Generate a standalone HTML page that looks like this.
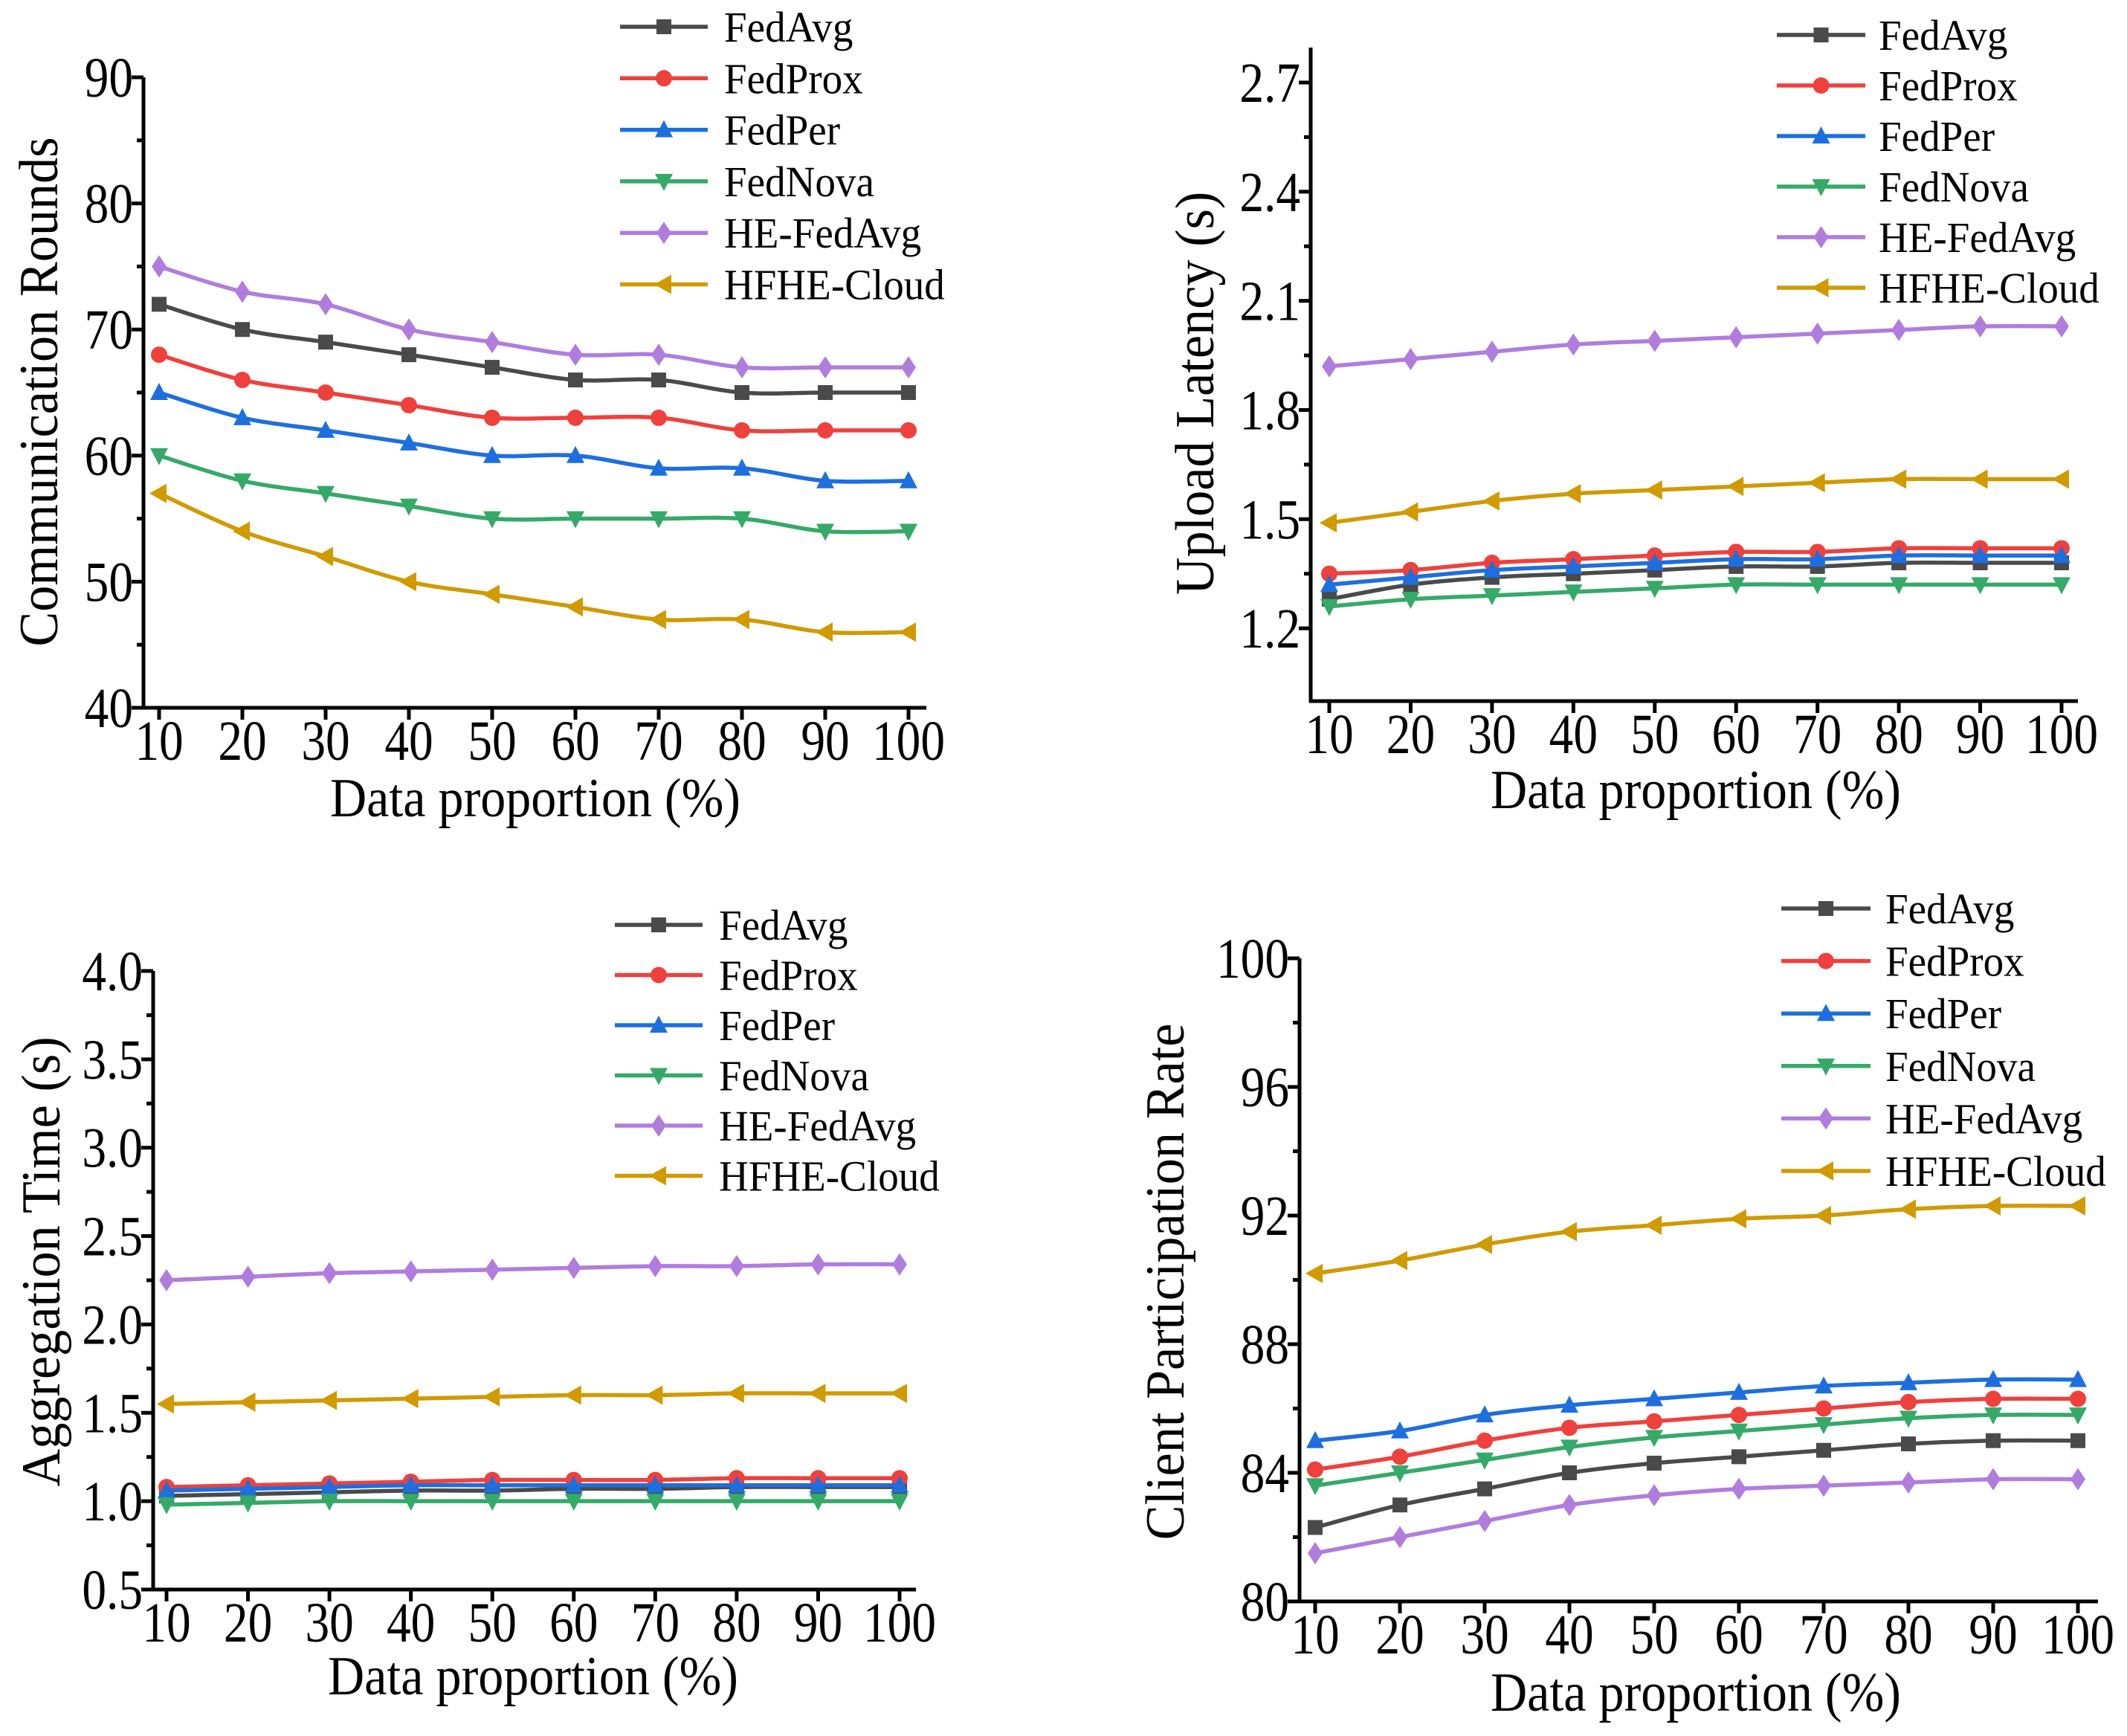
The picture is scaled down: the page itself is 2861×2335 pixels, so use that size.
<!DOCTYPE html>
<html><head><meta charset="utf-8"><style>
html,body{margin:0;padding:0;background:#fff}
svg{display:block}
text{font-family:"Liberation Serif","Times New Roman",serif;fill:#000}
</style></head><body>
<svg id="fig" width="2861" height="2335" viewBox="0 0 2861 2335" xmlns="http://www.w3.org/2000/svg"></svg>
<script>
const xCategories=[10,20,30,40,50,60,70,80,90,100];
const seriesNames=["FedAvg","FedProx","FedPer","FedNova","HE-FedAvg","HFHE-Cloud"];
// Panel 1: communication rounds
const roundsFedAvg=[72,70,69,68,67,66,66,65,65,65];
const roundsFedProx=[68,66,65,64,63,63,63,62,62,62];
const roundsFedPer=[65,63,62,61,60,60,59,59,58,58];
const roundsFedNova=[60,58,57,56,55,55,55,55,54,54];
const roundsHEFedAvg=[75,73,72,70,69,68,68,67,67,67];
const roundsHFHE=[57,54,52,50,49,48,47,47,46,46];
const roundsTicks=[40,50,60,70,80,90];
// Panel 2: upload latency
const latFedAvg=[1.28,1.32,1.34,1.35,1.36,1.37,1.37,1.38,1.38,1.38];
const latFedProx=[1.35,1.36,1.38,1.39,1.40,1.41,1.41,1.42,1.42,1.42];
const latFedPer=[1.32,1.34,1.36,1.37,1.38,1.39,1.39,1.40,1.40,1.40];
const latFedNova=[1.26,1.28,1.29,1.30,1.31,1.32,1.32,1.32,1.32,1.32];
const latHEFedAvg=[1.92,1.94,1.96,1.98,1.99,2.00,2.01,2.02,2.03,2.03];
const latHFHE=[1.49,1.52,1.55,1.57,1.58,1.59,1.60,1.61,1.61,1.61];
const latTicks=["1.2","1.5","1.8","2.1","2.4","2.7"];
// Panel 3: aggregation time
const aggFedAvg=[1.03,1.04,1.05,1.06,1.06,1.07,1.07,1.08,1.08,1.08];
const aggFedProx=[1.08,1.09,1.10,1.11,1.12,1.12,1.12,1.13,1.13,1.13];
const aggFedPer=[1.06,1.07,1.08,1.09,1.09,1.09,1.09,1.09,1.09,1.09];
const aggFedNova=[0.98,0.99,1.00,1.00,1.00,1.00,1.00,1.00,1.00,1.00];
const aggHEFedAvg=[2.25,2.27,2.29,2.30,2.31,2.32,2.33,2.33,2.34,2.34];
const aggHFHE=[1.55,1.56,1.57,1.58,1.59,1.60,1.60,1.61,1.61,1.61];
const aggTicks=["0.5","1.0","1.5","2.0","2.5","3.0","3.5","4.0"];
// Panel 4: client participation rate
const cprFedAvg=[82.3,83.0,83.5,84.0,84.3,84.5,84.7,84.9,85.0,85.0];
const cprFedProx=[84.1,84.5,85.0,85.4,85.6,85.8,86.0,86.2,86.3,86.3];
const cprFedPer=[85.0,85.3,85.8,86.1,86.3,86.5,86.7,86.8,86.9,86.9];
const cprFedNova=[83.6,84.0,84.4,84.8,85.1,85.3,85.5,85.7,85.8,85.8];
const cprHEFedAvg=[81.5,82.0,82.5,83.0,83.3,83.5,83.6,83.7,83.8,83.8];
const cprHFHE=[90.2,90.6,91.1,91.5,91.7,91.9,92.0,92.2,92.3,92.3];
const cprTicks=[80,84,88,92,96,100];

const colors=["#4a4a4a","#f0403c","#1d6fe0","#35aa68","#b07ddf","#d09a00"];
const markers=["square","circle","up","down","diamond","left"];
const NS="http://www.w3.org/2000/svg";
const svg=document.getElementById("fig");
function mk(tag,attrs,parent){const e=document.createElementNS(NS,tag);for(const k in attrs)e.setAttribute(k,attrs[k]);(parent||svg).appendChild(e);return e;}

function marker(g,type,x,y,c){
  const s=10;let e;
  if(type==="square")e=mk("rect",{x:x-s,y:y-s,width:2*s,height:2*s,fill:c},g);
  else if(type==="circle")e=mk("circle",{cx:x,cy:y,r:s+1,fill:c},g);
  else if(type==="up")e=mk("polygon",{points:`${x},${y-s-3} ${x+s+2},${y+s} ${x-s-2},${y+s}`,fill:c},g);
  else if(type==="down")e=mk("polygon",{points:`${x},${y+s+3} ${x+s+2},${y-s} ${x-s-2},${y-s}`,fill:c},g);
  else if(type==="diamond")e=mk("polygon",{points:`${x},${y-s-5} ${x+s},${y} ${x},${y+s+5} ${x-s},${y}`,fill:c},g);
  else e=mk("polygon",{points:`${x-s-3},${y} ${x+s},${y-s-3} ${x+s},${y+s+3}`,fill:c},g);
  
  
}
function smoothPath(pts){
  let d=`M${pts[0][0]},${pts[0][1]}`;
  for(let i=0;i<pts.length-1;i++){
    const p0=pts[i-1]||pts[i],p1=pts[i],p2=pts[i+1],p3=pts[i+2]||p2;
    const t=6;
    d+=` C${p1[0]+(p2[0]-p0[0])/t},${p1[1]+(p2[1]-p0[1])/t} ${p2[0]-(p3[0]-p1[0])/t},${p2[1]-(p3[1]-p1[1])/t} ${p2[0]},${p2[1]}`;
  }
  return d;
}
function ctext(g,x,y,size,anchor,str,sx){
  const t=mk("text",{x:0,y:0,"font-size":size,"text-anchor":anchor,transform:`translate(${x},${y}) scale(${sx},1)`},g);
  t.textContent=str;
  return t;
}

function panel(cfg){
  const g=mk("g",{});
  
  
  const ys=v=>cfg.yBot-(v-cfg.yMin)/(cfg.yMax-cfg.yMin)*(cfg.yBot-cfg.yTopVal);
  const xs=v=>cfg.x10+(v-10)/90*(cfg.x100-cfg.x10);
  const ya=mk("line",{x1:cfg.ax,y1:cfg.axTop,x2:cfg.ax,y2:cfg.yBot+2,stroke:"#000","stroke-width":5},g);
  
  const xa=mk("line",{x1:cfg.ax-2,y1:cfg.yBot,x2:cfg.axRight,y2:cfg.yBot,stroke:"#000","stroke-width":5},g);
  
  cfg.ticks.forEach((t,i)=>{
    const v=parseFloat(t),y=ys(v);
    mk("line",{x1:cfg.ax-16,y1:y,x2:cfg.ax,y2:y,stroke:"#000","stroke-width":5},g);
    const tx=ctext(g,cfg.ax-14,y+26,76,"end",String(t),0.86);
    
    if(i<cfg.ticks.length-1||cfg.extraMinor){
      const mv=v+cfg.step/2;
      if(mv<=cfg.yMaxAxis){const my=ys(mv);mk("line",{x1:cfg.ax-9,y1:my,x2:cfg.ax,y2:my,stroke:"#000","stroke-width":5},g);}
    }
  });
  xCategories.forEach(c=>{
    const x=xs(c);
    mk("line",{x1:x,y1:cfg.yBot,x2:x,y2:cfg.yBot+16,stroke:"#000","stroke-width":5},g);
    const tx=ctext(g,x,cfg.yBot+70,76,"middle",String(c),0.86);
    
  });
  const xt=ctext(g,cfg.xtX,cfg.xtY,74,"middle","Data proportion (%)",0.92);
  
  const yt=mk("text",{x:0,y:0,"font-size":74,"text-anchor":"middle",transform:`translate(${cfg.ytX},${cfg.ytY}) rotate(-90) scale(0.95,1)`},g);
  yt.textContent=cfg.yTitle;
  
  cfg.series.forEach((arr,si)=>{
    const sg=mk("g",{},g);
    
    
    const pts=arr.map((v,i)=>[xs(xCategories[i]),ys(v)]);
    const p=mk("path",{d:smoothPath(pts),fill:"none",stroke:colors[si],"stroke-width":5.5,"stroke-linejoin":"round"},sg);
    
    pts.forEach(q=>marker(sg,markers[si],q[0],q[1],colors[si]));
  });
  const lg=mk("g",{},g);
  
  seriesNames.forEach((n,i)=>{
    const y=cfg.legY+i*cfg.legDy;
    const eg=mk("g",{},lg);
    
    mk("line",{x1:cfg.legX1,y1:y,x2:cfg.legX2,y2:y,stroke:colors[i],"stroke-width":5.5},eg);
    marker(eg,markers[i],(cfg.legX1+cfg.legX2)/2,y,colors[i]);
    ctext(eg,cfg.legT,y+20,58,"start",n,0.95);
  });
}

panel({name:"rounds-chart",ax:193,axTop:104,axRight:1246,yBot:952,yTopVal:104,yMin:40,yMax:90,yMaxAxis:90,step:10,
  ticks:roundsTicks,x10:214,x100:1222,series:[roundsFedAvg,roundsFedProx,roundsFedPer,roundsFedNova,roundsHEFedAvg,roundsHFHE],
  yTitle:"Communication Rounds",ytX:77,ytY:527,xtX:720,xtY:1098,legX1:834,legX2:952,legT:974,legY:36,legDy:69.3});
panel({name:"latency-chart",ax:1763,axTop:64,axRight:2795,yBot:943,yTopVal:111,yMin:1.0,yMax:2.7,yMaxAxis:2.8,step:0.3,extraMinor:true,
  ticks:latTicks,x10:1788,x100:2773,series:[latFedAvg,latFedProx,latFedPer,latFedNova,latHEFedAvg,latHFHE],
  yTitle:"Upload Latency (s)",ytX:1632,ytY:529,xtX:2281,xtY:1087,legX1:2390,legX2:2509,legT:2527,legY:47,legDy:68});
panel({name:"aggregation-chart",ax:206,axTop:1306,axRight:1232,yBot:2138,yTopVal:1306,yMin:0.5,yMax:4.0,yMaxAxis:4.0,step:0.5,
  ticks:aggTicks,x10:224,x100:1210,series:[aggFedAvg,aggFedProx,aggFedPer,aggFedNova,aggHEFedAvg,aggHFHE],
  yTitle:"Aggregation Time (s)",ytX:80,ytY:1697,xtX:717,xtY:2279,legX1:827,legX2:945,legT:967,legY:1244,legDy:67.5});
panel({name:"participation-chart",ax:1748,axTop:1289,axRight:2822,yBot:2154,yTopVal:1289,yMin:80,yMax:100,yMaxAxis:100,step:4,
  ticks:cprTicks,x10:1769,x100:2795,series:[cprFedAvg,cprFedProx,cprFedPer,cprFedNova,cprHEFedAvg,cprHFHE],
  yTitle:"Client Participation Rate",ytX:1592,ytY:1724,xtX:2281,xtY:2301,legX1:2396,legX2:2516,legT:2536,legY:1222,legDy:70.6});
</script>
</body></html>
